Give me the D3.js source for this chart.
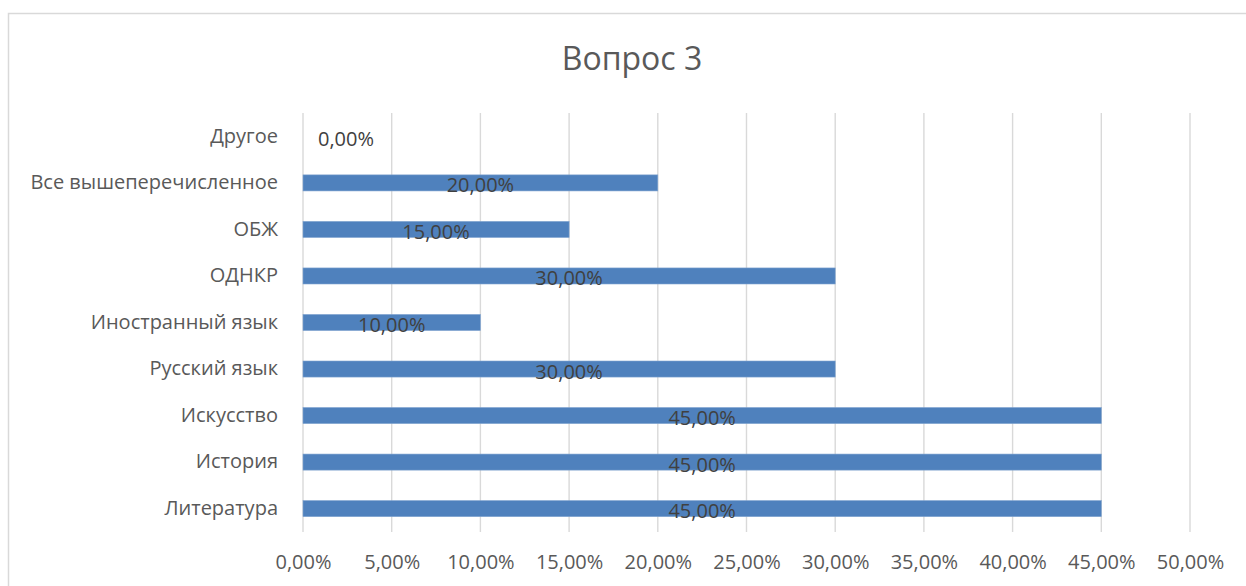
<!DOCTYPE html>
<html>
<head>
<meta charset="utf-8">
<script src="https://cdn.jsdelivr.net/npm/d3@7"></script>
<style>
  body { margin: 0; background: #fff; }
  text { font-family: "Open Sans", sans-serif; }
</style>
</head>
<body>
<div id="chart"></div>
<script>
// categories listed bottom to top, as in the picture
var categories = ["Литература", "История", "Искусство", "Русский язык", "Иностранный язык",
                  "ОДНКР", "ОБЖ", "Все вышеперечисленное", "Другое"];
var values = [0.45, 0.45, 0.45, 0.30, 0.10, 0.30, 0.15, 0.20, 0.00];
var xTicks = [0, 0.05, 0.10, 0.15, 0.20, 0.25, 0.30, 0.35, 0.40, 0.45, 0.50];

var W = 1246, H = 586;
var plotLeft = 303, plotRight = 1190, plotTop = 113, plotBottom = 532;
var fontStack = "Open Sans, sans-serif";

var svg = d3.select("#chart").append("svg")
    .attr("width", W)
    .attr("height", H);

// chart border
svg.append("rect")
    .attr("x", 8.5).attr("y", 13.5)
    .attr("width", W).attr("height", H)
    .attr("fill", "none")
    .attr("stroke", "#d9d9d9")
    .attr("stroke-width", 1.5);

svg.append("text")
    .attr("x", 632).attr("y", 70)
    .attr("text-anchor", "middle")
    .attr("font-size", 32)
    .attr("fill", "#595959")
    .text("Вопрос 3");

var fmt = function (v) { return (v * 100).toFixed(2).replace(".", ",") + "%"; };

var x = d3.scaleLinear().domain([0, 0.5]).range([plotLeft, plotRight]);
var y = d3.scaleBand().domain(categories).range([plotBottom, plotTop]).paddingInner(0.655).paddingOuter(0.33);

// gridlines
svg.append("g").selectAll("line")
    .data(xTicks)
    .enter().append("line")
    .attr("x1", function (d) { return x(d); })
    .attr("x2", function (d) { return x(d); })
    .attr("y1", plotTop).attr("y2", plotBottom)
    .attr("stroke", "#d9d9d9")
    .attr("stroke-width", 1.4);

// x axis
var xAxis = svg.append("g")
    .attr("transform", "translate(0," + plotBottom + ")")
    .call(d3.axisBottom(x).tickValues(xTicks).tickFormat(fmt).tickSize(0).tickPadding(23));
xAxis.select(".domain").remove();
xAxis.selectAll("text").attr("font-size", 20).attr("fill", "#595959")
    .attr("font-family", fontStack);

// y axis
var yAxis = svg.append("g")
    .attr("transform", "translate(" + plotLeft + ",0)")
    .call(d3.axisLeft(y).tickSize(0).tickPadding(25));
yAxis.select(".domain").remove();
yAxis.selectAll("text").attr("font-size", 20).attr("fill", "#595959")
    .attr("font-family", fontStack);

// bars
svg.append("g").selectAll("rect")
    .data(values)
    .enter().append("rect")
    .attr("x", x(0))
    .attr("y", function (d, i) { return y(categories[i]); })
    .attr("width", function (d) { return x(d) - x(0); })
    .attr("height", y.bandwidth())
    .attr("fill", "#4f81bd")
    .attr("stroke", "#7fa3cf")
    .attr("stroke-width", 0.6);

// data labels
svg.append("g").selectAll("text")
    .data(values)
    .enter().append("text")
    .attr("x", function (d) { return d === 0 ? x(0) + 15 : (x(0) + x(d)) / 2; })
    .attr("y", function (d, i) { return y(categories[i]) + y.bandwidth() / 2 + 2; })
    .attr("text-anchor", function (d) { return d === 0 ? "start" : "middle"; })
    .attr("dominant-baseline", "central")
    .attr("font-size", 20)
    .attr("fill", "#404040")
    .text(function (d) { return fmt(d); });
</script>
</body>
</html>
